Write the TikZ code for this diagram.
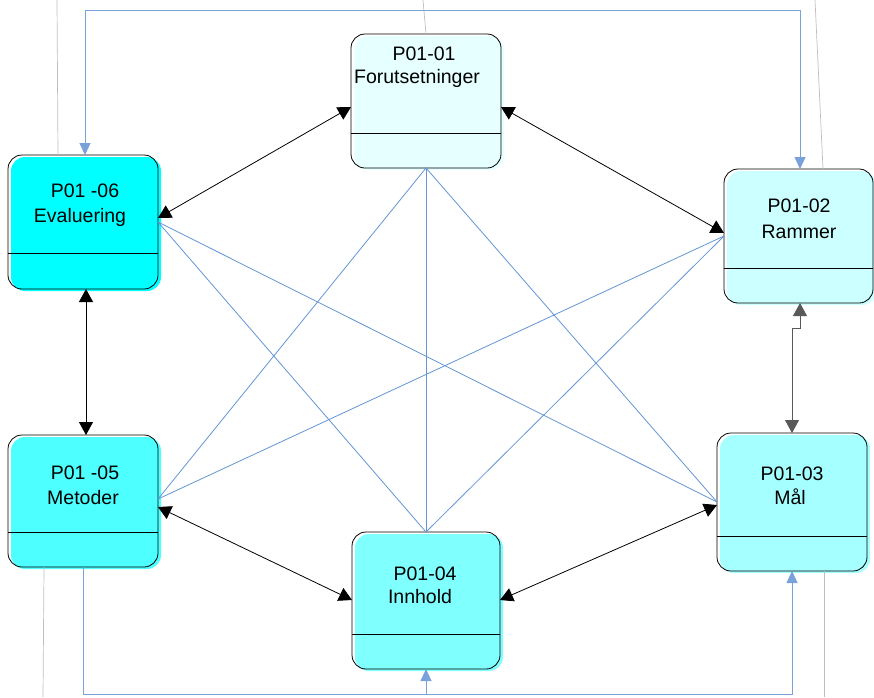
\documentclass[tikz,border=0pt]{standalone}
\usepackage{fontspec}
\setmainfont{Liberation Sans}
\usetikzlibrary{arrows.meta,shadows,calc}
\definecolor{fa}{HTML}{E6FFFF}
\definecolor{fb}{HTML}{CCFFFF}
\definecolor{fc}{HTML}{A6FFFF}
\definecolor{fd}{HTML}{80FFFF}
\definecolor{fe}{HTML}{4DFFFF}
\definecolor{ff}{HTML}{00FFFF}
\definecolor{lblue}{HTML}{6495D5}
\definecolor{oblue}{HTML}{7AA2DA}
\definecolor{lgray}{HTML}{BEBEBE}
\begin{document}
\begin{tikzpicture}[x=1pt,y=-1pt,
  box/.style={draw=black, line width=0.8pt, rounded corners=14pt, inner sep=0pt, outer sep=0pt,
    anchor=north west, general shadow={fill=#1, shadow xshift=3pt, shadow yshift=-2pt}},
  lab/.style={font=\fontsize{19.5}{23}\selectfont, inner sep=0pt, anchor=base},
  divl/.style={line width=0.8pt, draw=black},
  barrow/.style={line width=0.8pt, draw=black, {Triangle[length=13pt,width=14pt]}-{Triangle[length=13pt,width=14pt]}},
  bline/.style={line width=0.8pt, draw=lblue},
  oline/.style={line width=0.9pt, draw=oblue},
  otip/.style={-{Triangle[length=12pt,width=11pt]}},
  gline/.style={line width=0.7pt, draw=lgray}
]
\useasboundingbox (0,0) rectangle (874,697);

% free ends of gray lines
\coordinate (g1) at (423,0);
\coordinate (g6) at (57,0);
\coordinate (g2) at (815,0);
\coordinate (g5) at (43,697);
\coordinate (g3) at (824,697);

% boxes
\node[box=fa, minimum width=150pt, minimum height=134pt] (b1) at (351,34) {};
\node[box=ff, minimum width=150pt, minimum height=134pt] (b6) at (8,155) {};
\node[box=fb, minimum width=149pt, minimum height=134pt] (b2) at (724,169) {};
\node[box=fe, minimum width=150pt, minimum height=132pt] (b5) at (8,435) {};
\node[box=fd, minimum width=148pt, minimum height=137pt] (b4) at (352,532) {};
\node[box=fc, minimum width=150pt, minimum height=138pt] (b3) at (717,433) {};

\draw[gline] (b1.north) -- (g1);
\draw[gline] (b6.north west -| 58,0) -- (g6);
\draw[gline] (b2.north west -| 823,0) -- (g2);
\draw[gline] (b5.south west -| 44,0) -- (g5);
\draw[gline] (b3.south west -| 824,0) -- (g3);

% dividers
\draw[divl] (b1.west |- 0,133) -- (b1.east |- 0,133);
\draw[divl] (b6.west |- 0,253) -- (b6.east |- 0,253);
\draw[divl] (b2.west |- 0,268) -- (b2.east |- 0,268);
\draw[divl] (b5.west |- 0,532) -- (b5.east |- 0,532);
\draw[divl] (b4.west |- 0,634) -- (b4.east |- 0,634);
\draw[divl] (b3.west |- 0,536) -- (b3.east |- 0,536);

% labels
\node[lab] (t1a) at (424,60) {P01-01};
\node[lab] (t1b) at (417,83) {Forutsetninger};
\node[lab] (t6a) at (85,197) {P01 -06};
\node[lab] (t6b) at (80,222) {Evaluering};
\node[lab] (t2a) at (799,212) {P01-02};
\node[lab] (t2b) at (799,238) {Rammer};
\node[lab] (t5a) at (85,479) {P01 -05};
\node[lab] (t5b) at (83,504) {Metoder};
\node[lab] (t4a) at (425,580) {P01-04};
\node[lab] (t4b) at (420,603) {Innhold};
\node[lab] (t3a) at (792,480) {P01-03};
\node[lab] (t3b) at (790,504) {Mål};

% blue diagonal lines
\draw[bline] (b1.south) -- (b4.north);
\draw[bline] (b1.south) -- (b5.east |- 0,499);
\draw[bline] (b1.south) -- (b3.west |- 0,502);
\draw[bline] (b6.east |- 0,222) -- (b4.north);
\draw[bline] (b6.east |- 0,222) -- (b3.west |- 0,502);
\draw[bline] (b2.west |- 0,236) -- (b4.north);
\draw[bline] (b2.west |- 0,236) -- (b5.east |- 0,499);

% black double arrows
\draw[barrow] (b1.west |- 0,107) -- (b6.east |- 0,218);
\draw[barrow] (b1.east |- 0,107) -- (b2.west |- 0,233);
\draw[barrow] (b6.south -| 86,0) -- (b5.north -| 86,0);
\draw[barrow] (b5.east |- 0,507) -- (b4.west |- 0,600);
\draw[barrow] (b4.east |- 0,600) -- (b3.west |- 0,505);
\draw[barrow, draw=black!65] (b2.south -| 800,0) -- (800,328) -- (792,328) -- (b3.north -| 792,0);

% blue orthogonal connectors
\draw[oline, {Triangle[length=12pt,width=11pt]}-{Triangle[length=12pt,width=11pt]}]
  (b6.north -| 85,0) |- (800,10) -- (b2.north -| 800,0);
\coordinate (j) at (426,694);
\draw[oline, otip] (b5.south) |- (792,694) -- (b3.south -| 792,0);
\draw[oline, otip] (j) -- (b4.south);
\end{tikzpicture}
\end{document}
